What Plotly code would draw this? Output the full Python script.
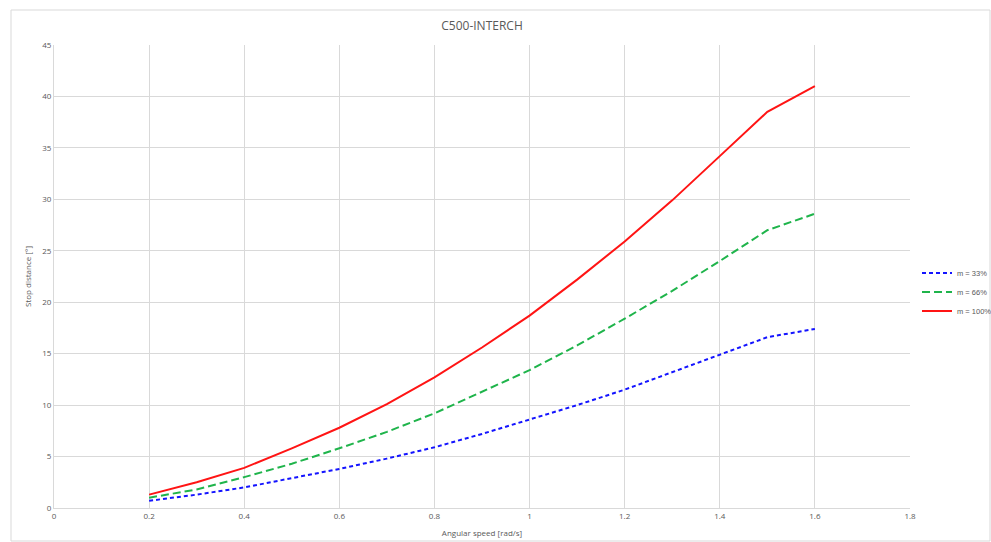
import plotly.graph_objects as go

speed = [0.2, 0.3, 0.4, 0.5, 0.6, 0.7, 0.8, 0.9, 1.0, 1.1, 1.2, 1.3, 1.4, 1.5, 1.6]
m33 = [0.7, 1.3, 2.0, 2.9, 3.8, 4.8, 5.9, 7.2, 8.6, 10.0, 11.5, 13.2, 14.9, 16.6, 17.4]
m66 = [1.0, 1.8, 3.0, 4.3, 5.8, 7.4, 9.2, 11.3, 13.4, 15.8, 18.4, 21.1, 24.0, 27.0, 28.6]
m100 = [1.3, 2.5, 3.9, 5.8, 7.8, 10.1, 12.7, 15.6, 18.7, 22.2, 25.9, 29.9, 34.2, 38.5, 41.0]

xticks = [0, 0.2, 0.4, 0.6, 0.8, 1, 1.2, 1.4, 1.6, 1.8]
xticklabels = ["0", "0.2", "0.4", "0.6", "0.8", "1", "1.2", "1.4", "1.6", "1.8"]
yticks = [0, 5, 10, 15, 20, 25, 30, 35, 40, 45]

FONT = "Open Sans, Liberation Sans, sans-serif"
fig = go.Figure()
fig.add_trace(go.Scatter(x=speed, y=m33, mode="lines", name="m = 33%",
                         line=dict(color="#1414ff", width=2, dash="4px,3px")))
fig.add_trace(go.Scatter(x=speed, y=m66, mode="lines", name="m = 66%",
                         line=dict(color="#1fb44b", width=2, dash="8px,4px")))
fig.add_trace(go.Scatter(x=speed, y=m100, mode="lines", name="m = 100%",
                         line=dict(color="#ff1414", width=2)))

fig.update_layout(
    width=991, height=542,
    margin=dict(l=54, r=81, t=45, b=34, autoexpand=False),
    paper_bgcolor="white", plot_bgcolor="white",
    font=dict(family=FONT, color="#595959", size=8),
    title=dict(text="C500-INTERCH", x=0.5, xref="paper", y=1 - 26 / 542, yanchor="middle",
               font=dict(size=12, color="#595959", family=FONT)),
    xaxis=dict(range=[0, 1.8], tickvals=xticks, ticktext=xticklabels,
               showgrid=True, gridcolor="#d9d9d9", gridwidth=1,
               zeroline=False, showline=True, linecolor="#d9d9d9", linewidth=1,
               ticks="", tickfont=dict(size=8, color="#595959"),
               title=dict(text="Angular speed [rad/s]", font=dict(size=8, color="#595959"), standoff=10)),
    yaxis=dict(range=[0, 45], tickvals=yticks,
               showgrid=True, gridcolor="#d9d9d9", gridwidth=1,
               zeroline=False, showline=True, linecolor="#d9d9d9", linewidth=1,
               ticks="", tickfont=dict(size=8, color="#595959"),
               title=dict(text="Stop distance [°]", font=dict(size=8, color="#595959"), standoff=9)),
    legend=dict(x=(917 - 54) / 856, xanchor="left", y=(508 - 292) / 463, yanchor="middle",
                font=dict(size=7.5, color="#595959", family="Liberation Sans, Arial, sans-serif"),
                bgcolor="rgba(0,0,0,0)", itemwidth=30, tracegroupgap=2),
    showlegend=True,
)

fig.add_shape(type="rect", xref="paper", yref="paper",
              x0=-43 / 856, x1=(990 - 54) / 856, y0=(508 - 541) / 463, y1=(508 - 10) / 463,
              line=dict(color="#d9d9d9", width=1), fillcolor="rgba(0,0,0,0)", layer="below")

fig.write_html("out.html", config={"displayModeBar": False},
               post_script="document.body.style.margin='0';document.body.style.overflow='hidden';")
